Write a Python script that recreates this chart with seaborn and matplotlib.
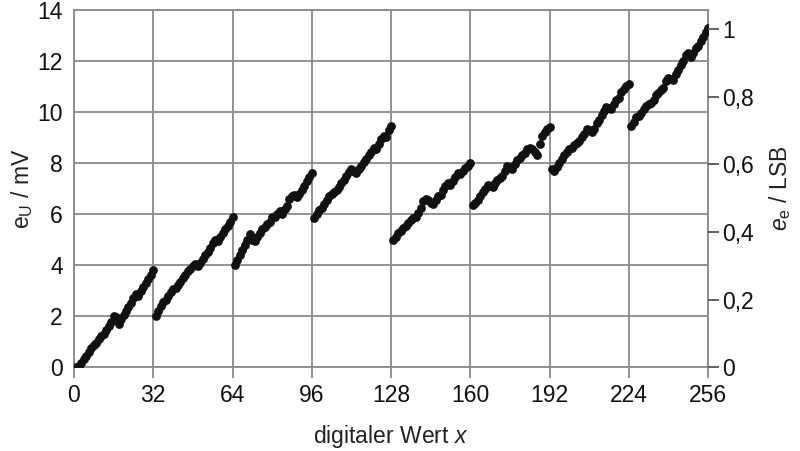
import numpy as np
import pandas as pd
import matplotlib
matplotlib.use("Agg")
import matplotlib.pyplot as plt
import seaborn as sns

# digital value x (1..256) and error e_U in mV
seg0 = [0.0, 0.05, 0.15, 0.3, 0.45, 0.6, 0.75, 0.85, 0.95, 1.1, 1.2, 1.3, 1.45, 1.6, 1.75, 2.0,
        1.95, 1.7, 1.9, 2.05, 2.2, 2.35, 2.5, 2.7, 2.85, 2.8, 3.0, 3.15, 3.3, 3.45, 3.6, 3.8]
seg1 = [2.0, 2.2, 2.4, 2.55, 2.65, 2.8, 2.95, 3.05, 3.1, 3.2, 3.35, 3.5, 3.6, 3.75, 3.85, 3.95,
        4.05, 3.95, 4.1, 4.25, 4.4, 4.5, 4.65, 4.85, 5.0, 4.95, 5.1, 5.25, 5.4, 5.55, 5.7, 5.9]
seg2 = [4.0, 4.2, 4.4, 4.6, 4.8, 5.0, 5.2, 5.0, 4.95, 5.1, 5.25, 5.4, 5.5, 5.6, 5.7, 5.9,
        5.9, 6.0, 6.1, 6.0, 6.2, 6.3, 6.6, 6.7, 6.75, 6.65, 6.8, 6.95, 7.1, 7.3, 7.45, 7.6]
seg3 = [5.85, 6.0, 6.15, 6.25, 6.4, 6.55, 6.7, 6.8, 6.85, 6.95, 7.05, 7.2, 7.35, 7.5, 7.65, 7.75,
        7.7, 7.6, 7.75, 7.9, 8.05, 8.15, 8.3, 8.45, 8.6, 8.55, 8.75, 8.95, 9.05, 9.0, 9.3, 9.45]
seg4 = [5.0, 5.1, 5.25, 5.35, 5.45, 5.55, 5.65, 5.75, 5.85, 5.9, 6.05, 6.25, 6.5, 6.6, 6.55, 6.45,
        6.4, 6.55, 6.7, 6.75, 6.95, 7.1, 7.2, 7.15, 7.3, 7.45, 7.6, 7.55, 7.7, 7.8, 7.9, 8.0]
seg5 = [6.35, 6.45, 6.55, 6.7, 6.85, 7.0, 7.15, 7.1, 7.05, 7.2, 7.35, 7.4, 7.5, 7.7, 7.9, 7.85,
        7.75, 7.95, 8.1, 8.2, 8.3, 8.4, 8.55, 8.6, 8.55, 8.45, 8.3, 8.75, 9.05, 9.2, 9.35, 9.4]
seg6 = [7.75, 7.7, 7.85, 8.0, 8.15, 8.3, 8.45, 8.55, 8.6, 8.7, 8.8, 8.85, 9.0, 9.15, 9.35, 9.3,
        9.2, 9.35, 9.55, 9.7, 9.9, 10.05, 10.2, 10.15, 10.1, 10.3, 10.45, 10.55, 10.8, 10.9, 11.0, 11.1]
seg7 = [9.45, 9.6, 9.8, 9.85, 9.95, 10.1, 10.25, 10.3, 10.35, 10.45, 10.65, 10.75, 10.85, 10.95, 11.2, 11.35,
        11.3, 11.25, 11.5, 11.65, 11.85, 12.0, 12.25, 12.3, 12.15, 12.3, 12.5, 12.6, 12.8, 12.95, 13.15, 13.3]

e_u = seg0 + seg1 + seg2 + seg3 + seg4 + seg5 + seg6 + seg7
x_vals = list(range(1, len(e_u) + 1))
mv_per_lsb = 13.25

x_ticks = [0, 32, 64, 96, 128, 160, 192, 224, 256]
y_ticks = [0, 2, 4, 6, 8, 10, 12, 14]
y2_ticks = [0, 0.2, 0.4, 0.6, 0.8, 1.0]
y2_labels = ["0", "0,2", "0,4", "0,6", "0,8", "1"]

df = pd.DataFrame({"x": x_vals, "e_u": e_u})

sns.set_theme(style="white")
plt.rcParams["font.family"] = ["Liberation Sans", "DejaVu Sans"]
plt.rcParams["mathtext.fontset"] = "custom"
plt.rcParams["mathtext.rm"] = "Liberation Sans"
plt.rcParams["mathtext.it"] = "Liberation Sans:italic"

fs = 16.5
fig = plt.figure(figsize=(8, 4.51), dpi=100)
ax = fig.add_axes([0.0925, 0.186, 0.7925, 0.792])

grid_c = "#8a8a8a"
sns.scatterplot(data=df, x="x", y="e_u", ax=ax, color="#111111", s=40,
                edgecolor="#111111", linewidth=0, zorder=3, legend=False)

ax.set_xlim(0, 256)
ax.set_ylim(0, 14)
ax.set_xticks(x_ticks)
ax.set_yticks(y_ticks)
ax.grid(True, color=grid_c, linewidth=1.3)
ax.set_axisbelow(True)
for side in ["left", "bottom", "right", "top"]:
    ax.spines[side].set_color(grid_c)
    ax.spines[side].set_linewidth(1.3)
ax.tick_params(axis="y", length=0, labelsize=fs, colors="#111111", pad=8)
ax.tick_params(axis="x", length=8, width=1.3, labelsize=fs, labelcolor="#111111",
               color=grid_c, pad=4, direction="out", bottom=True)
ax.set_xlabel("digitaler Wert $\\mathit{x}$", fontsize=fs, color="#222222", labelpad=12)
ax.set_ylabel("e$_\\mathrm{U}$ / mV", fontsize=fs, color="#222222", labelpad=2)

ax2 = ax.twinx()
ax2.set_ylim(0, 14 / mv_per_lsb)
ax2.set_yticks(y2_ticks)
ax2.set_yticklabels(y2_labels)
ax2.tick_params(axis="y", length=8, width=1.3, color="#555555", labelsize=fs,
                labelcolor="#111111", pad=2, direction="out", right=True)
for side in ["left", "bottom", "right", "top"]:
    ax2.spines[side].set_visible(False)
ax2.set_ylabel("$\\mathit{e}_\\mathrm{e}$ / LSB", fontsize=fs, color="#222222", labelpad=10)

fig.savefig("out.png", dpi=100)
